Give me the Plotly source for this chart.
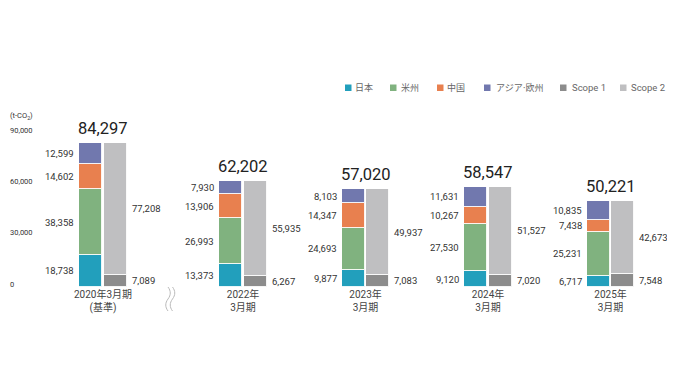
import plotly.graph_objects as go

# ---- data ----
periods = ["2020年3月期<br>(基準)", "2022年<br>3月期", "2023年<br>3月期", "2024年<br>3月期", "2025年<br>3月期"]
totals = [84297, 62202, 57020, 58547, 50221]
japan = [18738, 13373, 9877, 9120, 6717]
americas = [38358, 26993, 24693, 27530, 25231]
china = [14602, 13906, 14347, 10267, 7438]
asia_europe = [12599, 7930, 8103, 11631, 10835]
scope1 = [7089, 6267, 7083, 7020, 7548]
scope2 = [77208, 55935, 49937, 51527, 42673]
ytick_vals = [0, 30000, 60000, 90000]

region_series = [("日本", japan, "#229FBC"), ("米州", americas, "#80B27F"),
                 ("中国", china, "#E8804F"), ("アジア·欧州", asia_europe, "#7178AE")]
scope_series = [("Scope 1", scope1, "#8C8C8C"), ("Scope 2", scope2, "#BFBFC1")]

# ---- layout geometry (page offset of 8px from body margin) ----
OFF = 8
W, H = 675 - OFF, 389 - 2 * OFF
L, T, PW, PH = 40 - OFF, 133 - OFF, 620, 154
R = W - L - PW
B = H - T - PH
UNIT = 122.5
X0 = 103 - OFF  # pixel of first group
pos = [0.0] + [1.143 + i for i in range(len(periods) - 1)]
off = 0.1
bw = 0.19
FONT = "Roboto, 'Noto Sans CJK JP', sans-serif"
LEG_FONT = "'DejaVu Sans', 'Noto Sans CJK JP', sans-serif"


def px(xpage):
    return (xpage - OFF - L) / PW


def py(ypage):
    return (T + PH - (ypage - OFF)) / PH


fig = go.Figure()
for name, vals, col in region_series:
    fig.add_bar(x=[p - off for p in pos], y=vals, name=name, width=bw,
                marker=dict(color=col, line=dict(color="rgba(255,255,255,0.9)", width=1)),
                hoverinfo="skip", showlegend=False)
for name, vals, col in scope_series:
    fig.add_bar(x=[p + off for p in pos], y=vals, name=name, width=bw,
                marker=dict(color=col, line=dict(color="rgba(255,255,255,0.9)", width=1)),
                hoverinfo="skip", showlegend=False)

ann = []
lab_font = dict(family=FONT, size=9.5, color="#333333")
for i, p in enumerate(pos):
    cum = 0
    for name, vals, col in region_series:
        v = vals[i]
        ann.append(dict(x=p - off - bw / 2, y=cum + v / 2, xref="x", yref="y",
                        text=f"{v:,}", showarrow=False, xanchor="right", yanchor="middle",
                        xshift=-3, font=lab_font))
        cum += v
    cum = 0
    for name, vals, col in scope_series:
        v = vals[i]
        ann.append(dict(x=p + off + bw / 2, y=cum + v / 2, xref="x", yref="y",
                        text=f"{v:,}", showarrow=False, xanchor="left", yanchor="middle",
                        xshift=3, font=lab_font))
        cum += v
    ann.append(dict(x=p, y=totals[i], xref="x", yref="y", text=f"{totals[i]:,}",
                    showarrow=False, xanchor="center", yanchor="bottom", yshift=3,
                    font=dict(family=FONT, size=16.5, color="#222222")))

# y tick labels (left aligned at the figure's left edge)
for v in ytick_vals:
    ann.append(dict(x=px(OFF), y=v, xref="paper", yref="y", text=f"{v:,}",
                    showarrow=False, xanchor="left", yanchor="middle", yshift=3,
                    font=dict(family=FONT, size=7.5, color="#333333")))
ann.append(dict(x=px(OFF), y=90000, xref="paper", yref="y", text="(t-CO<sub>2</sub>)",
                showarrow=False, xanchor="left", yanchor="middle", yshift=17,
                font=dict(family=FONT, size=7.5, color="#333333")))

shapes = []
# custom legend (marker squares + labels)
legend_marker_x = [345, 390, 437, 484, 560, 620]
legend_text_x = [353, 399, 445, 494, 570, 629]
legend_fonts = [(LEG_FONT, 9), (LEG_FONT, 9), (LEG_FONT, 9), (LEG_FONT, 9), (FONT, 9.5), (FONT, 9.5)]
for (name, vals, col), mx, tx, (ff, fs) in zip(region_series + scope_series, legend_marker_x,
                                              legend_text_x, legend_fonts):
    shapes.append(dict(type="rect", xref="paper", yref="paper",
                       x0=px(mx), x1=px(mx + 6.5), y0=py(91), y1=py(84.5),
                       fillcolor=col, line=dict(width=0)))
    ann.append(dict(x=px(tx), y=py(87.8), xref="paper", yref="paper", text=name,
                    showarrow=False, xanchor="left", yanchor="middle",
                    font=dict(family=ff, size=fs, color="#666666")))

# break mark between 2020 and 2022
for xc in (168, 172.5):
    path = (f"M {px(xc)},{py(287)} "
            f"C {px(xc + 3)},{py(291)} {px(xc + 3)},{py(295)} {px(xc)},{py(299)} "
            f"C {px(xc - 3)},{py(303)} {px(xc - 3)},{py(307)} {px(xc)},{py(311)}")
    shapes.append(dict(type="path", path=path, xref="paper", yref="paper",
                       line=dict(color="#BBBBBB", width=1)))

fig.update_layout(
    width=W, height=H,
    margin=dict(l=L, r=R, t=T, b=B),
    paper_bgcolor="white", plot_bgcolor="white",
    barmode="stack", bargap=0,
    font=dict(family=FONT, color="#333333"),
    showlegend=False,
    xaxis=dict(range=[(L - X0) / UNIT, (L + PW - X0) / UNIT], tickvals=pos, ticktext=periods,
               showgrid=False, zeroline=False, showline=False, ticks="",
               tickfont=dict(family=FONT, size=10, color="#444444")),
    yaxis=dict(range=[0, 90000], showgrid=False, zeroline=False, showline=False,
               showticklabels=False, ticks=""),
    annotations=ann,
    shapes=shapes,
)

fig.write_html("out.html")
